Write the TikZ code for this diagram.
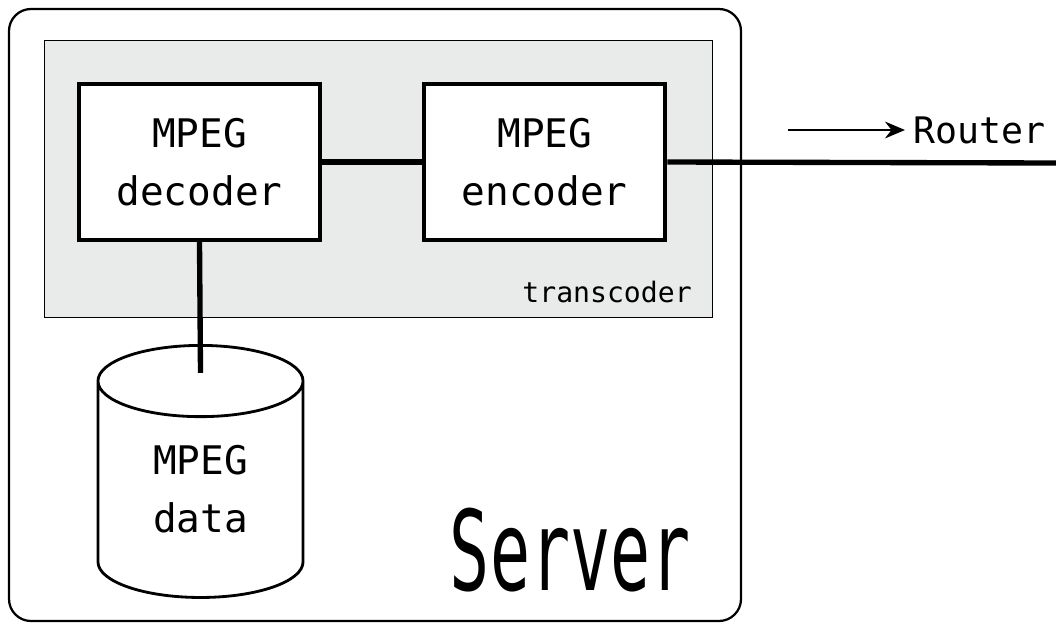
\documentclass[tikz,border=0pt]{standalone}
\usepackage{fontspec}
\setmonofont{DejaVu Sans Mono}
\newfontfamily\tallfont[FakeStretch=0.6]{DejaVu Sans Mono}
\usetikzlibrary{shapes.geometric, arrows, arrows.meta, positioning}
\definecolor{tcgray}{RGB}{233,235,234}
\tikzstyle{unit}  = [rectangle, minimum width=6.03cm, minimum height=3.9cm,
                     align=center, draw=black, line width=2.8pt, fill=white,
                     font=\fontsize{28}{41}\selectfont\ttfamily]
\tikzstyle{store} = [cylinder, shape border rotate=90, aspect=7.6,
                     minimum width=5.125cm, minimum height=6.3cm,
                     draw=black, line width=2pt, fill=white]
\tikzstyle{link}  = [line width=3.8pt]
\tikzstyle{arrow} = [line width=1.4pt,-{Stealth[length=0.5cm,width=0.42cm]}]

\begin{document}
\begin{tikzpicture}[x=0.025cm, y=-0.025cm]
  \useasboundingbox (0,0) rectangle (1056,625);
  % server and transcoder frames
  \draw[line width=1.6pt, rounded corners=0.55cm] (9,9) rectangle (741,621);
  \draw[fill=tcgray, line width=0.7pt] (44,40) rectangle (712,317);

  \node (dec) [unit] at (199.5,162) {MPEG\\decoder};
  \node (enc) [unit, right=2.5cm of dec] {MPEG\\encoder};
  \node (db)  [store, anchor=top] at (200.5,344) {};
  \node (dbtext) at (200.5,489) [align=center, font=\fontsize{28}{41}\selectfont\ttfamily] {MPEG\\data};

  \node (trans) [anchor=base east, inner sep=0pt, font=\fontsize{20}{24}\selectfont\ttfamily] at (692,302) {transcoder};
  \node (server) [anchor=base east, inner sep=0pt, font=\fontsize{79}{90}\selectfont\tallfont] at (691,590) {Server};

  \coordinate (edge) at (1056,163);
  \coordinate (arrstart) at (788,130);
  \node (router) [anchor=west, inner sep=0.2cm, font=\fontsize{26}{30}\selectfont\ttfamily] at (905,130) {Router};

  \draw[link] (dec) -- (enc);
  \draw[link] (enc.east) -- (edge);
  \draw[link] (dec.south) -- ([yshift=-0.72cm]db.top);
  \draw[arrow] (arrstart) -- (router.west);
\end{tikzpicture}
\end{document}
